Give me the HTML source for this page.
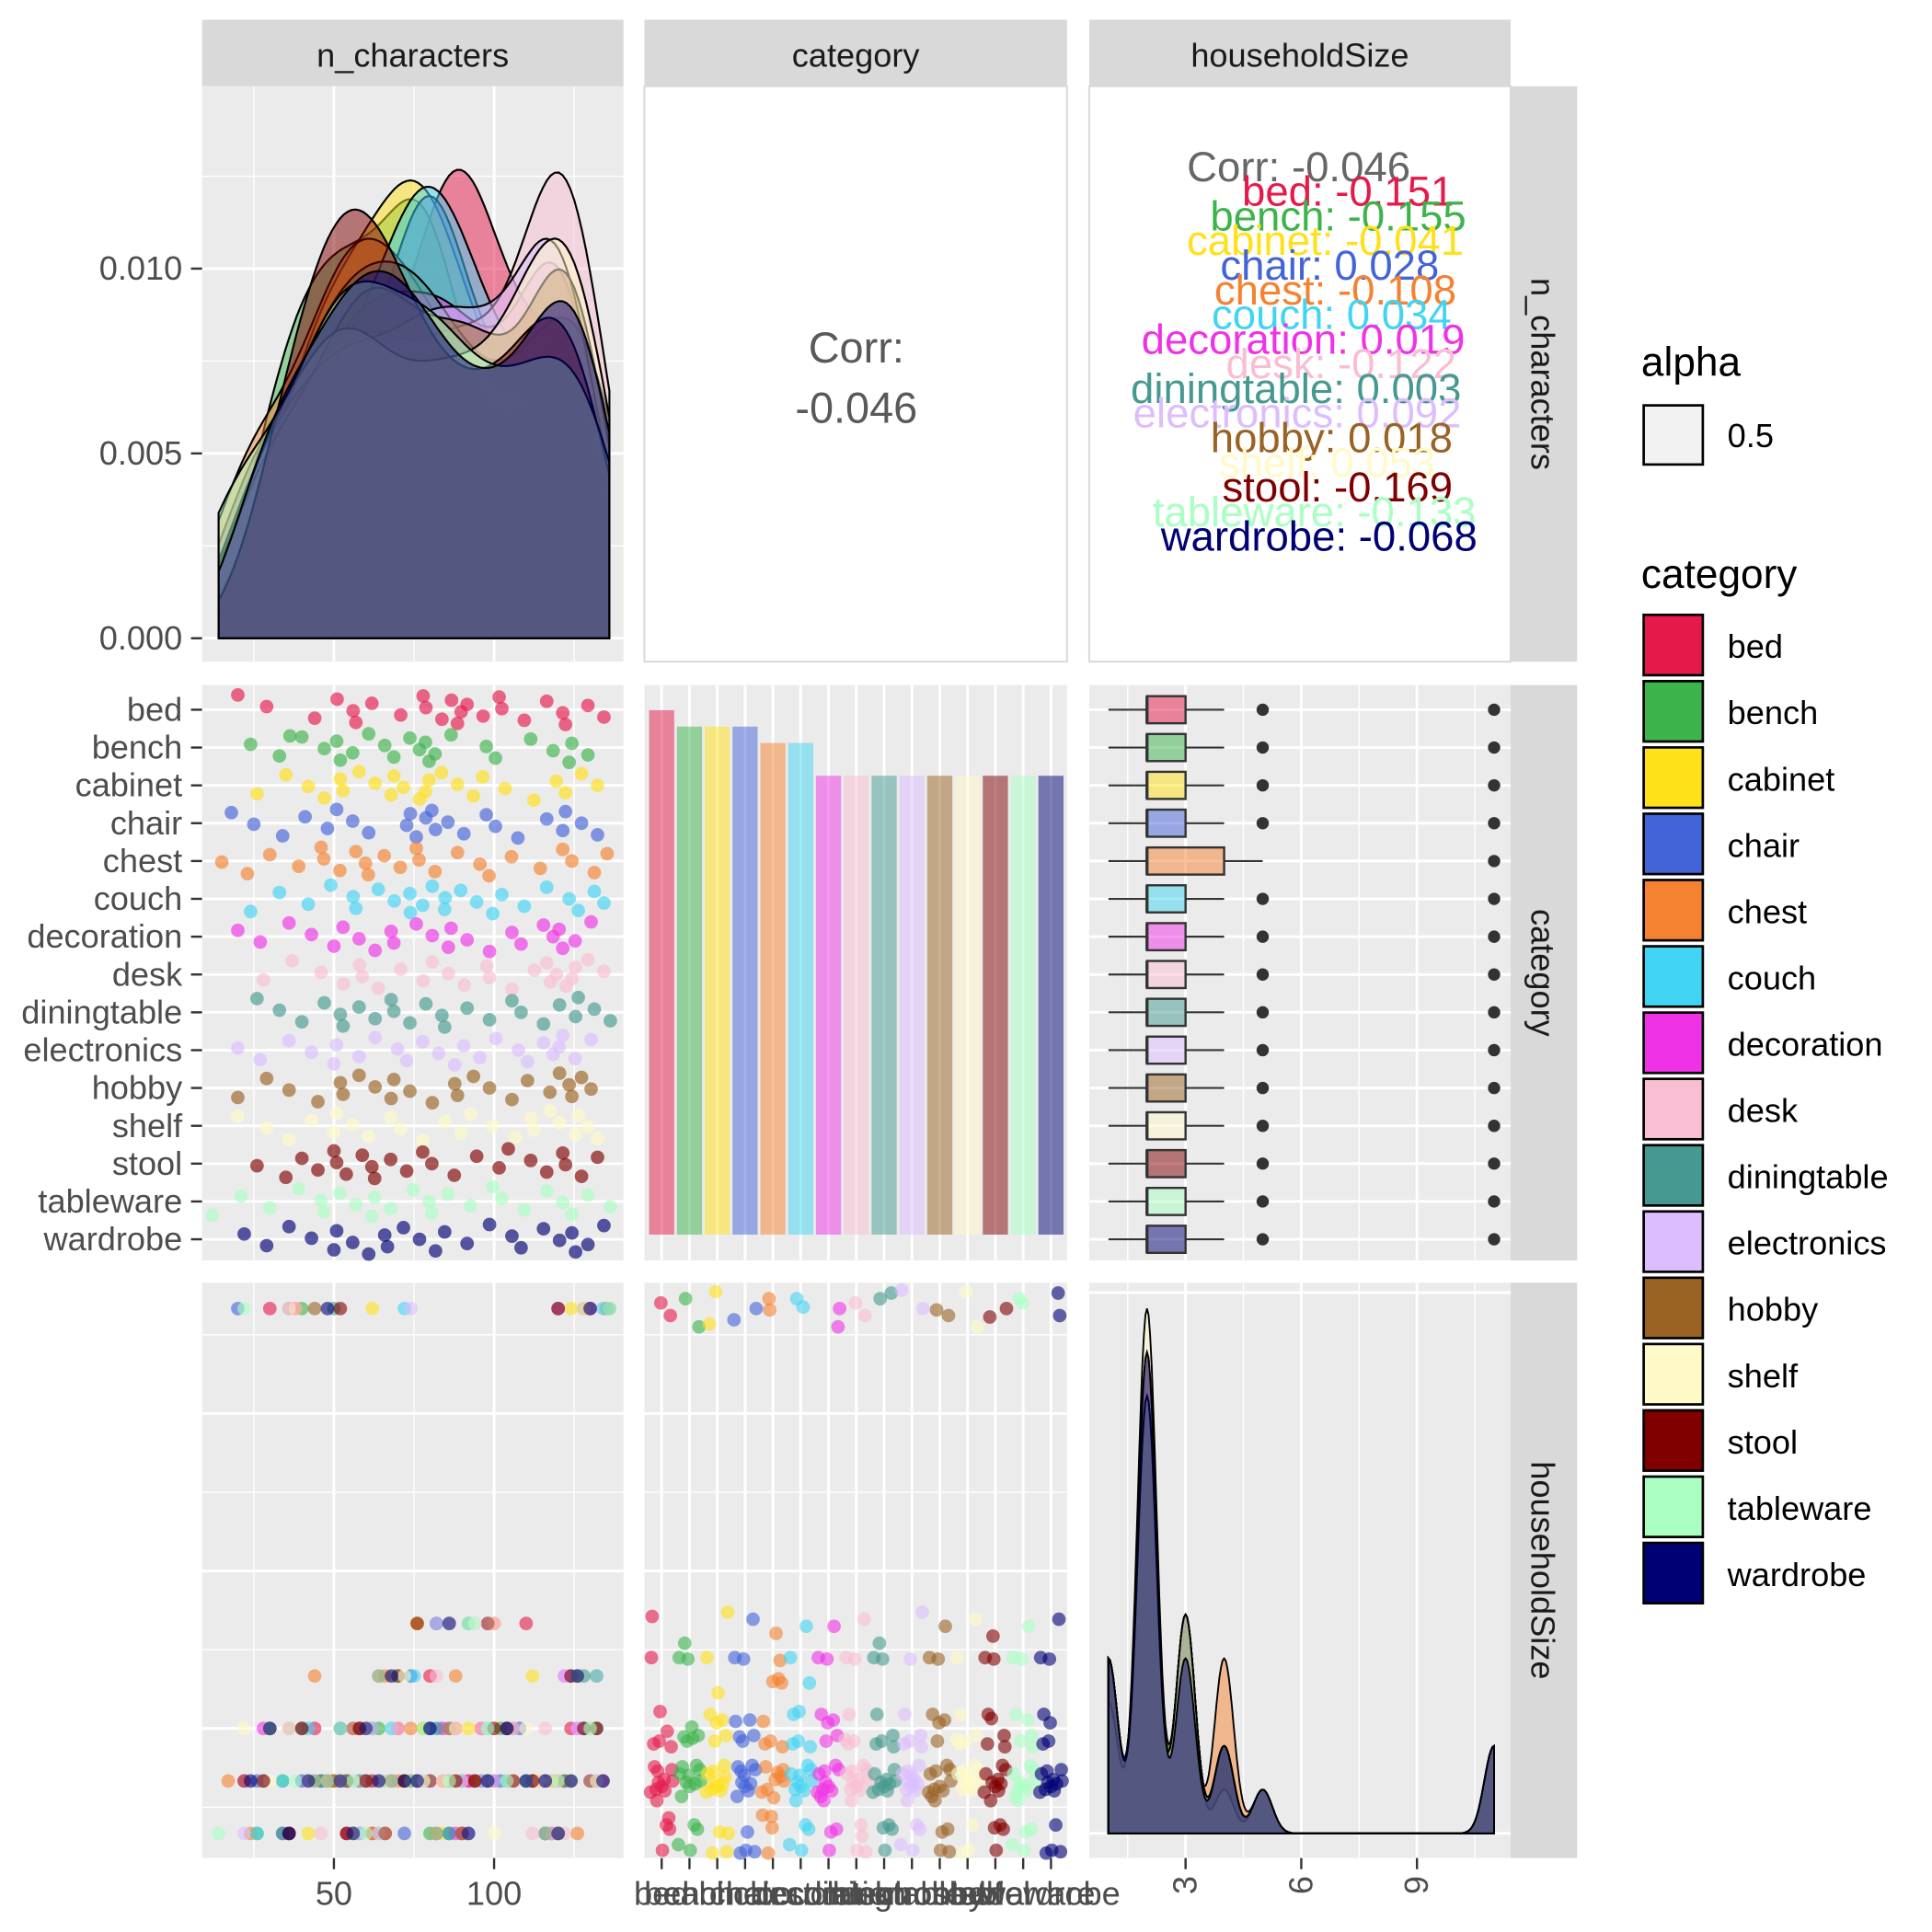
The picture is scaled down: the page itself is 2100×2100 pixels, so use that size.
<!DOCTYPE html>
<html><head><meta charset="utf-8"><style>
html,body{margin:0;padding:0;background:#fff;}
svg{display:block;font-family:"Liberation Sans",Arial,sans-serif;}
</style></head><body>
<svg id="chart" width="2100" height="2100" viewBox="0 0 1568 1568" xmlns="http://www.w3.org/2000/svg"></svg>
<script>
const categories=["bed","bench","cabinet","chair","chest","couch","decoration","desk","diningtable","electronics","hobby","shelf","stool","tableware","wardrobe"];
const colors=["#e6194b","#3cb44b","#ffe119","#4363d8","#f58231","#42d4f4","#f032e6","#fabed4","#469990","#dcbeff","#9a6324","#fffac8","#800000","#aaffc3","#000075"];
const counts=[32,31,31,31,30,30,28,28,28,28,28,28,28,28,28];
const corrTotal="-0.046";
const corrByCat=["-0.151","-0.155","-0.041","0.028","-0.108","0.034","0.019","-0.122","0.003","0.092","0.018","0.053","-0.169","-0.133","-0.068"];
const nchar=[
[22,30,44,50,54,58,62,70,76,80,84,86,88,90,92,96,100,104,110,116,120,124,130,134],
[26,34,40,46,50,52,56,60,64,70,74,76,78,80,82,86,96,102,112,118,122,126,130,36],
[28,36,42,46,50,54,58,62,66,70,72,76,78,80,84,88,92,98,104,112,118,124,128,132],
[20,26,34,40,46,52,56,60,72,74,76,78,80,82,86,90,96,102,108,116,120,124,128,132],
[17,24,30,38,44,48,52,56,58,62,66,70,74,78,82,88,94,100,106,114,120,126,132,135],
[26,34,42,48,54,58,64,68,72,75,78,80,83,86,90,94,98,104,110,116,122,128,132,134],
[22,28,36,42,48,54,58,62,66,70,76,80,84,88,92,98,104,110,116,118,120,122,126,130],
[30,38,46,52,56,60,64,70,76,82,86,90,96,100,106,112,116,118,120,122,124,126,130,134],
[28,34,40,46,50,54,58,62,66,70,74,78,82,86,92,98,104,110,116,120,124,128,132,136],
[22,28,36,42,48,52,58,62,68,74,78,82,86,92,96,100,106,112,116,118,120,122,126,130],
[22,30,36,44,50,54,58,62,66,70,74,80,86,90,94,98,104,112,118,120,122,126,128,130],
[22,30,36,42,48,52,56,60,66,72,78,84,88,94,100,106,110,114,118,120,124,128,130,132],
[28,36,40,44,48,52,54,58,60,64,68,72,76,82,88,94,100,106,112,116,120,124,128,132],
[14,22,30,38,44,48,52,56,60,64,68,74,78,82,86,92,98,104,110,116,120,126,130,136],
[24,30,36,42,48,52,56,60,64,68,72,76,80,86,92,98,104,110,116,120,124,126,130,134]
];
const hh=[
[2,11,3,2,1,2,1,3,2,4,2,2,3,1,2,3,2,2,5,1,2,3,11,2],
[1,2,11,2,2,3,1,2,3,4,2,2,3,1,5,2,2,3,2,1,2,4,3,11],
[2,3,1,2,2,2,3,11,1,4,2,5,3,2,1,2,3,2,2,4,1,11,3,2],
[11,2,1,2,2,3,3,2,1,4,2,2,3,5,1,2,2,2,3,1,11,4,3,2],
[2,1,3,11,4,2,2,3,2,1,4,2,3,2,1,4,2,5,3,2,2,1,4,11],
[1,2,3,2,2,2,1,3,11,4,2,2,3,1,2,5,3,2,2,1,2,3,4,11],
[2,3,11,2,2,2,3,2,1,4,2,2,3,1,2,5,3,2,2,1,11,4,3,2],
[3,11,1,2,2,2,1,3,2,4,2,2,3,5,2,1,3,2,2,1,2,4,11,2],
[2,1,3,2,11,2,1,3,2,4,2,2,3,1,5,2,3,2,2,1,2,4,3,11],
[1,2,3,2,2,2,1,3,2,11,2,5,3,1,2,2,3,2,2,1,11,4,3,2],
[2,3,1,11,2,2,3,2,1,4,2,2,3,1,2,5,3,2,2,1,2,4,11,2],
[3,2,11,2,2,2,1,3,2,4,2,2,3,5,1,2,3,2,2,1,2,11,3,2],
[2,1,3,2,2,11,1,3,2,4,2,2,5,1,2,2,3,2,2,1,11,4,3,3],
[1,11,3,2,2,2,3,2,1,4,2,2,3,1,2,5,3,2,2,1,2,4,3,11],
[2,3,1,2,11,2,1,3,2,4,2,2,3,5,1,2,3,2,2,1,2,4,11,2]
];
const nTicks=[50,100];
const hTicks=[3,6,9];
const dTicks=[0,0.005,0.010];
const dTickLabels=["0.000","0.005","0.010"];

const NS="http://www.w3.org/2000/svg";
const svg=document.getElementById('chart');
function mk(tag,attrs,parent){const e=document.createElementNS(NS,tag);for(const k in attrs)e.setAttribute(k,attrs[k]);(parent||svg).appendChild(e);return e;}

const xN=v=>271+(v-50)*2.6;
const yD=d=>518-d*30000;
const xH=h=>899.6+(h-1)*31.3;
const yH=h=>1488-(h-1)*42.6;
const yCat=i=>576+i*30.7;
const xCat=i=>537+i*22.57;
const yCount=c=>1002-c*13.3;
const jit=(i,m)=>(((i*m)%29)/28-0.5);

const cols=[[164,506],[523,866],[884,1226]];
const rows=[[70,537],[556,1023],[1041,1508]];
const strips=["n_characters","category","householdSize"];

for(let r=0;r<3;r++)for(let c=0;c<3;c++){
  const white=(r===0&&c>0);
  const p=mk('rect',{x:cols[c][0],y:rows[r][0],width:cols[c][1]-cols[c][0],height:rows[r][1]-rows[r][0],fill:white?'#fff':'#ebebeb',stroke:white?'#d9d9d9':'none','stroke-width':1.5});
  
  
}
for(let c=0;c<3;c++){
  const s=mk('rect',{x:cols[c][0],y:16,width:cols[c][1]-cols[c][0],height:54,fill:'#d9d9d9'});
  
  
  const t=mk('text',{x:(cols[c][0]+cols[c][1])/2,y:54,'text-anchor':'middle','font-size':27,fill:'#1a1a1a'});t.textContent=strips[c];
  
  
}
for(let r=0;r<3;r++){
  const s=mk('rect',{x:1226,y:rows[r][0],width:54,height:rows[r][1]-rows[r][0],fill:'#d9d9d9'});
  
  
  const cy=(rows[r][0]+rows[r][1])/2;
  const t=mk('text',{x:1243,y:cy,'text-anchor':'middle','font-size':27,fill:'#1a1a1a',transform:`rotate(90 1243 ${cy})`});t.textContent=strips[r];
  
  
}

function vline(x,r,c,w){const l=mk('line',{x1:x,x2:x,y1:rows[r][0],y2:rows[r][1],stroke:'#fff','stroke-width':w});}
function hline(y,r,c,w){const l=mk('line',{x1:cols[c][0],x2:cols[c][1],y1:y,y2:y,stroke:'#fff','stroke-width':w});}
[[0,0],[1,0],[2,0]].forEach(([r,c])=>{[25,75,125].forEach(v=>vline(xN(v),r,c,1));nTicks.forEach(v=>vline(xN(v),r,c,2.2));});
[[1,2],[2,2]].forEach(([r,c])=>{[1.5,4.5,7.5,10.5].forEach(v=>vline(xH(v),r,c,1));hTicks.forEach(v=>vline(xH(v),r,c,2.2));});
[[1,1],[2,1]].forEach(([r,c])=>{categories.forEach((_,i)=>vline(xCat(i),r,c,2.2));});
[0.0025,0.0075,0.0125].forEach(v=>hline(yD(v),0,0,1));dTicks.forEach(v=>hline(yD(v),0,0,2.2));
[[1,0],[1,2]].forEach(([r,c])=>categories.forEach((_,i)=>hline(yCat(i),r,c,2.2)));
[[2,0],[2,1]].forEach(([r,c])=>{[1.5,4.5,7.5,10.5].forEach(v=>hline(yH(v),r,c,1));hTicks.forEach(v=>hline(yH(v),r,c,2.2));});
[1049,1488].forEach(y=>hline(y,2,2,2.2));

function kde(vals,bw,lo,hi,n){const pts=[];for(let k=0;k<=n;k++){const x=lo+(hi-lo)*k/n;let s=0;vals.forEach(v=>{const z=(x-v)/bw;s+=Math.exp(-0.5*z*z);});pts.push([x,s/(vals.length*bw*Math.sqrt(2*Math.PI))]);}return pts;}
const allN=nchar.flat();const nLo=Math.min(...allN),nHi=Math.max(...allN);
categories.forEach((cat,i)=>{
  const pts=kde(nchar[i],11,nLo,nHi,100);
  let d=`M${xN(nLo)},${yD(0)} `+pts.map(p=>`L${xN(p[0]).toFixed(1)},${yD(p[1]).toFixed(1)}`).join(' ')+` L${xN(nHi)},${yD(0)} Z`;
  const e=mk('path',{d:d,fill:colors[i],'fill-opacity':0.5,stroke:'#000','stroke-width':1.6});
  
  
});
[["Corr:",282],[corrTotal,331]].forEach(([s,y],k)=>{const t=mk('text',{x:695,y:y+12,'text-anchor':'middle','font-size':35,fill:'#595959'});t.textContent=s;
  
  });
const corrEnd=[1180,1190,1188,1168,1182,1178,1189,1182,1186,1186,1179,1165,1179,1198,1199];
{const t=mk('text',{x:1054,y:147,'text-anchor':'middle','font-size':34,fill:'#666'});t.textContent="Corr: "+corrTotal;
 
 }
categories.forEach((cat,i)=>{const t=mk('text',{x:corrEnd[i],y:167+i*20,'text-anchor':'end','font-size':34,fill:colors[i]});t.textContent=cat+": "+corrByCat[i];
  
  });

categories.forEach((cat,i)=>{nchar[i].forEach((v,j)=>{const c=mk('circle',{cx:xN(v+jit(j,7)*4),cy:yCat(i)+jit(j+i,11)*24,r:5.5,fill:colors[i],'fill-opacity':0.65});
  
  });});
categories.forEach((cat,i)=>{const b=mk('rect',{x:xCat(i)-10.2,y:yCount(counts[i]),width:20.4,height:yCount(0)-yCount(counts[i]),fill:colors[i],'fill-opacity':0.5});
  
  });
function quant(a,q){const s=[...a].sort((x,y)=>x-y);const p=(s.length-1)*q;const lo=Math.floor(p),hi=Math.ceil(p);return s[lo]+(s[hi]-s[lo])*(p-lo);}
categories.forEach((cat,i)=>{
  const a=hh[i];const q1=quant(a,0.25),q2=quant(a,0.5),q3=quant(a,0.75),iqr=q3-q1;
  const inl=a.filter(v=>v>=q1-1.5*iqr&&v<=q3+1.5*iqr);const wl=Math.min(...inl),wh=Math.max(...inl);
  const y=yCat(i);
  const g=mk('g',{});
  mk('line',{x1:xH(wl),x2:xH(q1),y1:y,y2:y,stroke:'#333','stroke-width':1.6},g);
  mk('line',{x1:xH(q3),x2:xH(wh),y1:y,y2:y,stroke:'#333','stroke-width':1.6},g);
  mk('rect',{x:xH(q1),y:y-11,width:Math.max(xH(q3)-xH(q1),1),height:22,fill:colors[i],'fill-opacity':0.5,stroke:'#333','stroke-width':1.8},g);
  mk('line',{x1:xH(q2),x2:xH(q2),y1:y-11,y2:y+11,stroke:'#333','stroke-width':2.5},g);
  [...new Set(a.filter(v=>v<wl||v>wh))].forEach(v=>mk('circle',{cx:xH(v),cy:y,r:5,fill:'#333'},g));
});
categories.forEach((cat,i)=>{nchar[i].forEach((v,j)=>{const c=mk('circle',{cx:xN(v),cy:yH(hh[i][j]),r:5.5,fill:colors[i],'fill-opacity':0.6});
  
  });});
categories.forEach((cat,i)=>{hh[i].forEach((v,j)=>{const c=mk('circle',{cx:xCat(i)+jit(j,13)*18,cy:yH(v)+jit(j+3,17)*32,r:5.5,fill:colors[i],'fill-opacity':0.6});
  
  });});
{const allH=hh.flat();const hLo=Math.min(...allH),hHi=Math.max(...allH);
 const dens=categories.map((_,i)=>kde(hh[i],0.25,hLo,hHi,250));
 const mx=Math.max(...dens.map(p=>Math.max(...p.map(q=>q[1]))));
 const yHD=d=>1488-d/mx*426;
 categories.forEach((cat,i)=>{const pts=dens[i];
  let d=`M${xH(hLo)},${yHD(0)} `+pts.map(p=>`L${xH(p[0]).toFixed(1)},${yHD(p[1]).toFixed(1)}`).join(' ')+` L${xH(hHi)},${yHD(0)} Z`;
  const e=mk('path',{d:d,fill:colors[i],'fill-opacity':0.5,stroke:'#000','stroke-width':1.4});
  
  });}

function tick(x1,y1,x2,y2){const l=mk('line',{x1,y1,x2,y2,stroke:'#333','stroke-width':1.8});}
dTicks.forEach((v,k)=>{tick(155,yD(v),164,yD(v));const t=mk('text',{x:148,y:yD(v)+9,'text-anchor':'end','font-size':27,fill:'#4d4d4d'});t.textContent=dTickLabels[k];
  
  });
categories.forEach((cat,i)=>{tick(155,yCat(i),164,yCat(i));const t=mk('text',{x:148,y:yCat(i)+9,'text-anchor':'end','font-size':27,fill:'#4d4d4d'});t.textContent=cat;
  
  });
nTicks.forEach(v=>{tick(xN(v),1508,xN(v),1517);const t=mk('text',{x:xN(v),y:1546,'text-anchor':'middle','font-size':27,fill:'#4d4d4d'});t.textContent=v;
  
  });
categories.forEach((cat,i)=>{tick(xCat(i),1508,xCat(i),1517);const t=mk('text',{x:xCat(i),y:1546,'text-anchor':'middle','font-size':27,fill:'#4d4d4d'});t.textContent=cat;
  
  });
hTicks.forEach(v=>{tick(xH(v),1508,xH(v),1517);const t=mk('text',{x:xH(v)+9,y:1530,'text-anchor':'middle','font-size':27,fill:'#4d4d4d',transform:`rotate(-90 ${xH(v)+9} 1530)`});t.textContent=v;
  
  });

{const t=mk('text',{x:1332,y:305,'font-size':33,fill:'#000'});t.textContent="alpha";
 
 
 const b=mk('rect',{x:1334,y:329,width:48,height:48,fill:'#f2f2f2',stroke:'#000','stroke-width':2});
 
 
 const l=mk('text',{x:1402,y:363,'font-size':27,fill:'#000'});l.textContent="0.5";
 
 
 const c=mk('text',{x:1332,y:477,'font-size':33,fill:'#000'});c.textContent="category";
 
 }
categories.forEach((cat,i)=>{const y=499+i*53.8;
  const b=mk('rect',{x:1334,y:y,width:48,height:49,fill:colors[i],stroke:'#000','stroke-width':2});
  
  
  const t=mk('text',{x:1402,y:y+35,'font-size':27,fill:'#000'});t.textContent=cat;
  
  });
</script>
</body></html>
